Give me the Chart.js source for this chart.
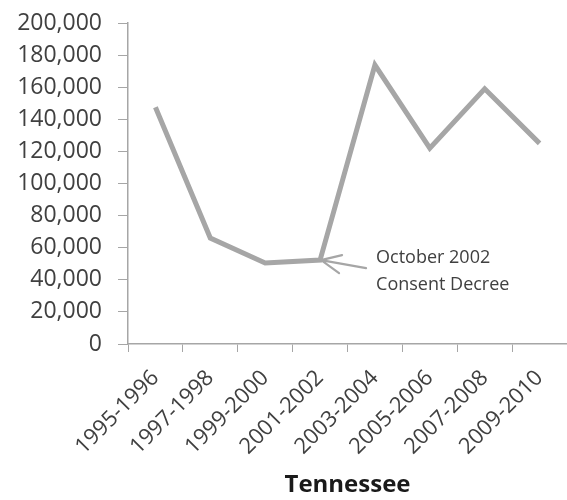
<!DOCTYPE html>
<html lang="en">
<head>
  <meta charset="UTF-8" />
  <title>Tennessee</title>
  <script src="https://cdn.jsdelivr.net/npm/chart.js"></script>
  <style>
    html, body { margin: 0; padding: 0; background: #fff; }
    #wrap { width: 567px; height: 500px; }
  </style>
</head>
<body>
  <div id="wrap"><canvas id="chart"></canvas></div>

  <script>
    const categories = ["1995-1996", "1997-1998", "1999-2000", "2001-2002", "2003-2004", "2005-2006", "2007-2008", "2009-2010"];
    const values = [147500, 66000, 50500, 52300, 173800, 122000, 159000, 125000];
    const yTicks = { min: 0, max: 200000, step: 20000 };
    const noteLines = ["October 2002", "Consent Decree"];
    const noteIndex = 3;
    const xTitle = "Tennessee";

    const GRAY = "#a6a6a6";
    const TEXT = "#404040";

    // arrow + note pointing at the 2001-2002 point
    const notePlugin = {
      id: "note",
      afterDatasetsDraw(chart) {
        const pt = chart.getDatasetMeta(0).data[noteIndex];
        const ctx = chart.ctx;
        const x = pt.x + 1, y = pt.y;
        ctx.save();
        ctx.strokeStyle = GRAY;
        ctx.lineWidth = 2.2;
        ctx.lineCap = "round";
        ctx.beginPath();
        ctx.moveTo(x + 45, y + 8);
        ctx.lineTo(x, y);
        ctx.moveTo(x + 21, y - 5);
        ctx.lineTo(x, y);
        ctx.lineTo(x + 18, y + 13);
        ctx.stroke();
        ctx.fillStyle = TEXT;
        ctx.font = "18px 'Open Sans'";
        ctx.textAlign = "left";
        ctx.textBaseline = "middle";
        noteLines.forEach((t, i) => ctx.fillText(t, x + 55, y - 2 + i * 27));
        ctx.restore();
      }
    };

    new Chart(document.getElementById("chart"), {
      type: "line",
      data: {
        labels: categories,
        datasets: [{
          data: values,
          borderColor: GRAY,
          borderWidth: 5,
          pointRadius: 0,
          tension: 0,
          borderJoinStyle: "miter"
        }]
      },
      options: {
        responsive: true,
        maintainAspectRatio: false,
        animation: false,
        layout: { padding: { top: 23, right: 0, bottom: 0, left: 0 } },
        plugins: { legend: { display: false }, tooltip: { enabled: false } },
        scales: {
          x: {
            offset: true,
            grid: { offset: true, drawOnChartArea: false, tickLength: 8, color: GRAY },
            border: { color: GRAY, width: 1.5 },
            ticks: { maxRotation: 45, minRotation: 45, color: TEXT, font: { family: "Open Sans", size: 22 }, padding: 13 },
            title: { display: true, text: xTitle, color: "#1a1a1a", font: { family: "Open Sans", size: 24, weight: "bold" }, padding: { top: 10, bottom: 0 } },
            afterFit: s => { s.height = 156; s.paddingRight = 0; }
          },
          y: {
            min: yTicks.min,
            max: yTicks.max,
            grid: { drawOnChartArea: false, tickLength: 10, color: GRAY },
            border: { color: GRAY, width: 1.5 },
            ticks: {
              stepSize: yTicks.step,
              color: TEXT,
              padding: 16,
              font: { family: "Open Sans", size: 23, lineHeight: 0.5 },
              callback: v => v.toLocaleString("en-US")
            },
            afterFit: s => { s.width = 128; s.paddingTop = 0; }
          }
        }
      },
      plugins: [notePlugin]
    });
  </script>
</body>
</html>
